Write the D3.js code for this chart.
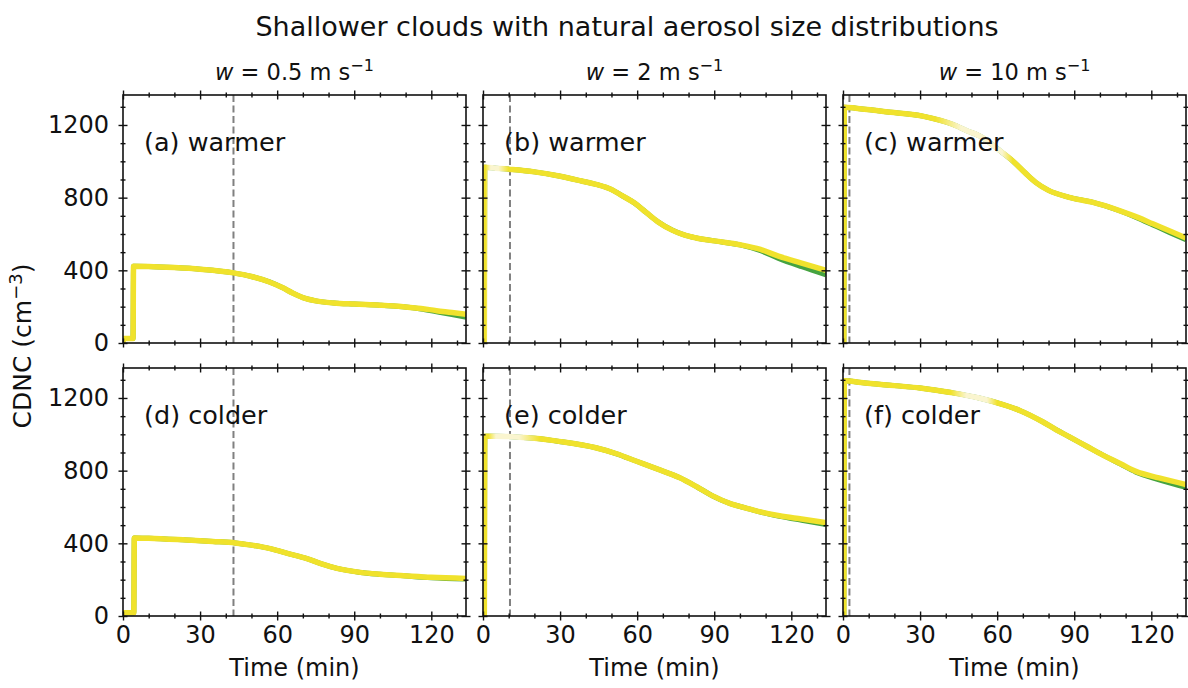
<!DOCTYPE html>
<html><head><meta charset="utf-8">
<script src="https://cdn.jsdelivr.net/npm/d3@7"></script>
<style>
body{margin:0;background:#fff}
text{font-family:"DejaVu Sans",sans-serif;fill:#111}
</style>
</head><body>
<svg id="chart" width="1188" height="688"></svg>
<script>
// ---------- data ----------
const title = "Shallower clouds with natural aerosol size distributions";
const windSpeeds = ["0.5", "2", "10"];
const panelLabels = ["(a) warmer","(b) warmer","(c) warmer","(d) colder","(e) colder","(f) colder"];
const xMajorTicks = [0, 30, 60, 90, 120];
const xMinorTicks = [10, 20, 40, 50, 70, 80, 100, 110, 130];
const yMajorTicks = [0, 400, 800, 1200];
const yMinorTicks = [100, 200, 300, 500, 600, 700, 900, 1000, 1100, 1300];
const xDomain = [0, 133.5];
const yDomain = [0, 1365];
const xLabel = "Time (min)";

// dashed marker time (min) per panel
const markerTimes = [43, 10.5, 2.5, 43, 10.5, 2.5];

// time axes per panel
const timeA = [0, 0.3, 3.9, 4.1, 10, 20, 30, 43, 50, 57, 62, 66, 70, 75, 82, 90, 100, 109, 116, 122, 128, 133.5];
const yellowA = [0, 25, 25, 422, 421, 415, 406, 386, 366, 336, 305, 275, 250, 232, 220, 214, 208, 200, 190, 178, 168, 158];
const greenA  = [0, 25, 25, 422, 421, 415, 406, 386, 366, 336, 305, 275, 250, 232, 220, 214, 208, 199, 187, 172, 157, 142];

const timeB = [0, 0.5, 0.7, 5, 11.4, 20, 29.6, 38, 44, 50, 54, 59, 63.4, 68, 73.8, 78, 83, 90, 100, 108, 115, 124, 133.5];
const yellowB = [0, 0, 968, 962, 955, 942, 919, 893, 873, 845, 812, 770, 720, 668, 620, 596, 578, 562, 541, 515, 478, 440, 400];
const greenB  = [0, 0, 968, 962, 955, 942, 919, 893, 873, 845, 812, 770, 720, 668, 620, 596, 578, 562, 540, 508, 466, 420, 375];

const timeC = [0, 0.3, 0.5, 5, 16.6, 31, 42.6, 48, 54.3, 60, 66, 71, 75, 80, 88, 97, 107.6, 115, 120.6, 127, 133.5];
const yellowC = [0, 0, 1298, 1292, 1273, 1249, 1204, 1170, 1131, 1070, 1003, 935, 884, 840, 802, 775, 729, 690, 656, 618, 578];
const greenC  = [0, 0, 1298, 1292, 1273, 1249, 1204, 1170, 1131, 1070, 1003, 935, 884, 840, 802, 775, 728, 686, 650, 609, 568];

const timeD = [0, 0.3, 4.2, 4.4, 10, 24.7, 35, 43.7, 50, 57.3, 64, 71.6, 77, 83.3, 92.4, 100, 109.3, 120, 133.5];
const yellowD = [0, 18, 18, 430, 428, 418, 410, 402, 390, 371, 345, 316, 288, 262, 240, 230, 222, 213, 207];
const greenD  = [0, 18, 18, 430, 428, 418, 410, 402, 390, 371, 345, 316, 288, 262, 240, 230, 221, 211, 203];

const timeE = [0, 0.5, 0.7, 5, 11.4, 20, 29.6, 43.9, 52, 59.5, 68, 76.4, 83, 89.4, 96, 102.4, 108, 115.4, 124, 133.5];
const yellowE = [0, 0, 990, 990, 987, 978, 961, 926, 893, 853, 808, 762, 713, 661, 620, 594, 573, 552, 534, 514];
const greenE  = [0, 0, 990, 990, 987, 978, 961, 926, 893, 853, 808, 762, 713, 661, 620, 594, 572, 549, 527, 504];

const timeF = [0, 0.3, 0.5, 7, 20, 30, 42, 53, 62, 69, 77.7, 83, 88, 95, 101, 108, 114, 123, 133.5];
const yellowF = [0, 0, 1295, 1285, 1268, 1255, 1230, 1200, 1165, 1130, 1069, 1025, 987, 933, 887, 838, 796, 760, 724];
const greenF  = [0, 0, 1295, 1285, 1268, 1255, 1230, 1200, 1165, 1130, 1069, 1025, 987, 933, 887, 836, 792, 750, 708];

const panelTimes  = [timeA, timeB, timeC, timeD, timeE, timeF];
const panelGreen  = [greenA, greenB, greenC, greenD, greenE, greenF];
const panelYellow = [yellowA, yellowB, yellowC, yellowD, yellowE, yellowF];

// pale (faded) stretches of the top curve, minutes [fadeIn, paleStart, paleEnd, fadeOut]
const paleStretches = [null, [1, 3, 6, 10], [36, 46, 62, 66], null, [2, 5, 14, 22], [42, 48, 56, 60]];

// ---------- layout ----------
const colX = [123, 483, 843];
const rowY = [95, 368];
const pw = 343, ph = 248;
const yellowColor = "#f0e22c";
const paleColor = "#faf5cf";
const greenColor = "#45a340";

const svg = d3.select("#chart");
const defs = svg.append("defs");

svg.append("text").attr("x", 627).attr("y", 36).attr("text-anchor", "middle")
  .style("font-size", "27px").text(title);

windSpeeds.forEach((w, i) => {
  const t = svg.append("text").attr("x", colX[i] + pw / 2).attr("y", 80)
    .attr("text-anchor", "middle").style("font-size", "22.5px");
  t.append("tspan").style("font-style", "italic").text("w");
  t.append("tspan").text(" = " + w + " m s");
  t.append("tspan").attr("dy", -9).style("font-size", "16px").text("\u22121");
});

// y label
const yl = svg.append("text").attr("transform", "translate(31,346) rotate(-90)")
  .attr("text-anchor", "middle").style("font-size", "25px");
yl.append("tspan").text("CDNC (cm");
yl.append("tspan").attr("dy", -9).style("font-size", "18px").text("\u22123");
yl.append("tspan").attr("dy", 9).text(")");

const x = d3.scaleLinear().domain(xDomain).range([0, pw]);
const y = d3.scaleLinear().domain(yDomain).range([ph, 0]);

function styleTicks(g, len, horiz) {
  g.select(".domain").remove();
  g.selectAll(".tick line")
    .attr(horiz ? "y1" : "x1", -len).attr(horiz ? "y2" : "x2", len)
    .attr("stroke", "#111").attr("stroke-width", 1.4);
}

for (let p = 0; p < 6; p++) {
  const col = p % 3, row = Math.floor(p / 3);
  const g = svg.append("g").attr("transform", `translate(${colX[col]},${rowY[row]})`);
  const clipId = "clip" + p;
  defs.append("clipPath").attr("id", clipId).append("rect")
    .attr("x", 0).attr("y", -3).attr("width", pw).attr("height", ph + 3);

  // dashed marker
  g.append("line").attr("x1", x(markerTimes[p])).attr("x2", x(markerTimes[p]))
    .attr("y1", 0).attr("y2", ph).attr("stroke", "#808080").attr("stroke-width", 2)
    .attr("stroke-dasharray", "7,3.5");

  const times = panelTimes[p];
  const line = d3.line().x(d => x(d[0])).y(d => y(d[1])).curve(d3.curveMonotoneX);
  const greenPts = times.map((t, i) => [t, panelGreen[p][i]]);
  const yellowPts = times.map((t, i) => [t, panelYellow[p][i]]);

  let stroke = yellowColor;
  if (paleStretches[p]) {
    const gid = "grad" + p;
    const s = paleStretches[p];
    const gr = defs.append("linearGradient").attr("id", gid)
      .attr("gradientUnits", "userSpaceOnUse")
      .attr("x1", 0).attr("x2", pw).attr("y1", 0).attr("y2", 0);
    const stops = [[s[0], yellowColor], [s[1], paleColor], [s[2], paleColor], [s[3], yellowColor]];
    stops.forEach(([t, c]) => gr.append("stop").attr("offset", x(t) / pw).attr("stop-color", c));
    stroke = `url(#${gid})`;
  }

  const lg = g.append("g").attr("clip-path", `url(#${clipId})`);
  lg.append("path").datum(greenPts).attr("d", line).attr("fill", "none")
    .attr("stroke", greenColor).attr("stroke-width", 5).attr("stroke-linejoin", "round");
  lg.append("path").datum(yellowPts).attr("d", line).attr("fill", "none")
    .attr("stroke", stroke).attr("stroke-width", 5.5).attr("stroke-linejoin", "round");

  // frame
  g.append("rect").attr("width", pw).attr("height", ph).attr("fill", "none")
    .attr("stroke", "#111").attr("stroke-width", 1.6);

  const showX = row === 1, showY = col === 0;
  // bottom
  const gb = g.append("g").attr("transform", `translate(0,${ph})`)
    .call(d3.axisBottom(x).tickValues(xMajorTicks).tickFormat(showX ? d3.format("d") : ""));
  styleTicks(gb, 4.5, true);
  gb.selectAll("text").attr("y", 10).style("font-size", "24px").style("font-family", "DejaVu Sans").attr("fill", "#111");
  styleTicks(g.append("g").attr("transform", `translate(0,${ph})`)
    .call(d3.axisBottom(x).tickValues(xMinorTicks).tickFormat("")), 2.5, true);
  // top
  styleTicks(g.append("g").call(d3.axisTop(x).tickValues(xMajorTicks).tickFormat("")), 4.5, true);
  styleTicks(g.append("g").call(d3.axisTop(x).tickValues(xMinorTicks).tickFormat("")), 2.5, true);
  // left
  const gl = g.append("g").call(d3.axisLeft(y).tickValues(yMajorTicks).tickFormat(showY ? d3.format("d") : ""));
  styleTicks(gl, 4.5, false);
  gl.selectAll("text").attr("x", -14).style("font-size", "24px").style("font-family", "DejaVu Sans").attr("fill", "#111");
  styleTicks(g.append("g").call(d3.axisLeft(y).tickValues(yMinorTicks).tickFormat("")), 2.5, false);
  // right
  styleTicks(g.append("g").attr("transform", `translate(${pw},0)`)
    .call(d3.axisRight(y).tickValues(yMajorTicks).tickFormat("")), 4.5, false);
  styleTicks(g.append("g").attr("transform", `translate(${pw},0)`)
    .call(d3.axisRight(y).tickValues(yMinorTicks).tickFormat("")), 2.5, false);

  // panel label
  g.append("text").attr("x", 21).attr("y", 56).style("font-size", "25.5px").text(panelLabels[p]);

  if (showX) {
    g.append("text").attr("x", pw / 2).attr("y", ph + 60).attr("text-anchor", "middle")
      .style("font-size", "24px").text(xLabel);
  }
}
</script>
</body></html>
